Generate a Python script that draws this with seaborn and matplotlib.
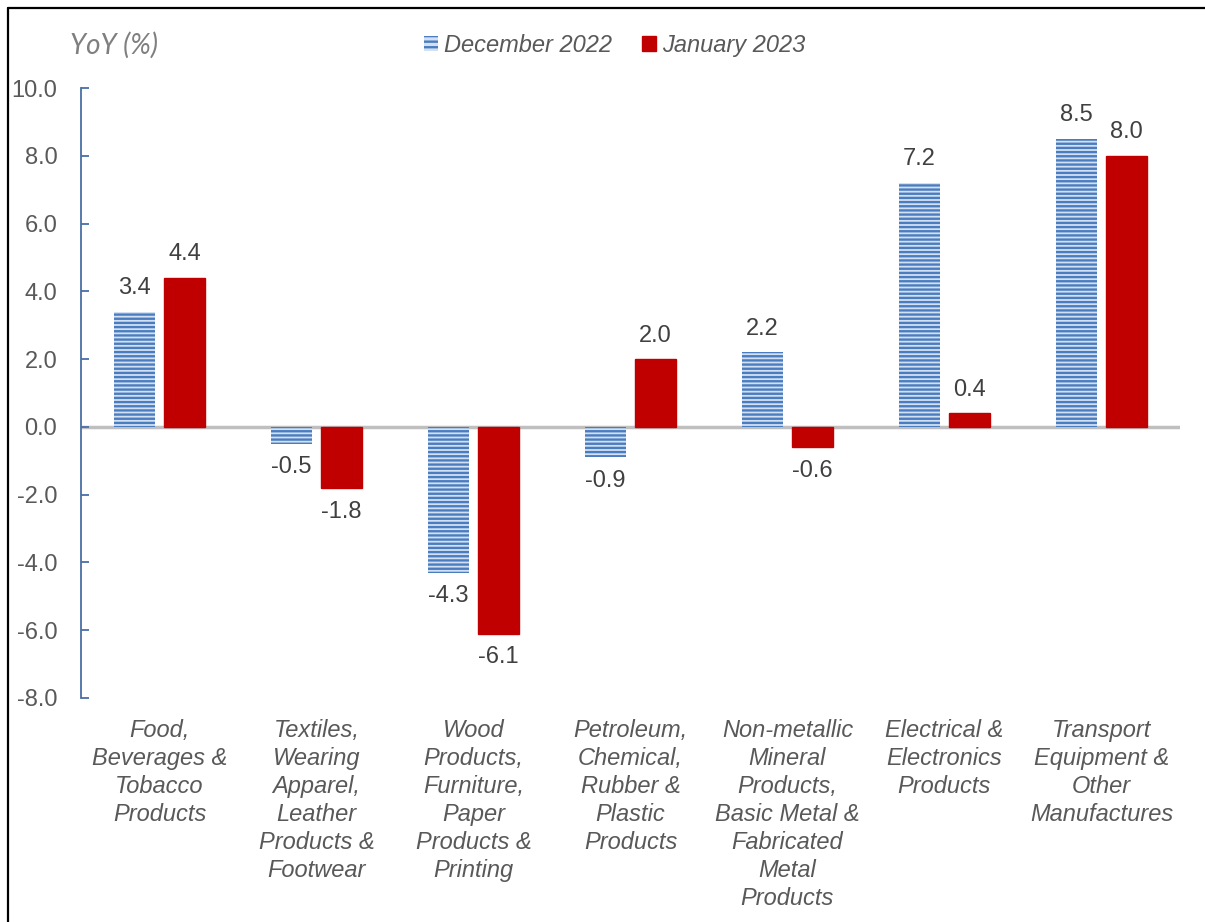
import numpy as np
import matplotlib.pyplot as plt
import pandas as pd
import seaborn as sns
from matplotlib.lines import Line2D
from matplotlib.patches import Patch

# Data
categories = [
    "Food,\nBeverages &\nTobacco\nProducts",
    "Textiles,\nWearing\nApparel,\nLeather\nProducts &\nFootwear",
    "Wood\nProducts,\nFurniture,\nPaper\nProducts &\nPrinting",
    "Petroleum,\nChemical,\nRubber &\nPlastic\nProducts",
    "Non-metallic\nMineral\nProducts,\nBasic Metal &\nFabricated\nMetal\nProducts",
    "Electrical &\nElectronics\nProducts",
    "Transport\nEquipment &\nOther\nManufactures",
]
dec_2022 = [3.4, -0.5, -4.3, -0.9, 2.2, 7.2, 8.5]
jan_2023 = [4.4, -1.8, -6.1, 2.0, -0.6, 0.4, 8.0]
series = ["December 2022", "January 2023"]
yticks = np.arange(-8, 10.1, 2)

df = pd.DataFrame({
    "Category": categories * 2,
    "Series": [series[0]] * len(categories) + [series[1]] * len(categories),
    "Value": dec_2022 + jan_2023,
})

sns.set_style("white")
plt.rcParams["font.family"] = ["Liberation Sans", "DejaVu Sans"]
plt.rcParams["hatch.linewidth"] = 1.7
plt.rcParams["hatch.color"] = "#4a7dbf"

stripe_col = "#4a7dbf"

fig = plt.figure(figsize=(12.05, 9.22), dpi=100)
ax = fig.add_axes([0.0672, 0.243, 0.912, 0.6614])

sns.barplot(data=df, x="Category", y="Value", hue="Series", order=categories,
            hue_order=series, palette=["#d3e0f2", "#c00000"], width=0.637, gap=0.186,
            ax=ax, legend=False, saturation=1)

# Striped style for December bars
for p in ax.containers[0]:
    p.set_hatch("----")
    p.set_edgecolor(stripe_col)
    p.set_linewidth(0)
    if hasattr(p, "set_hatchcolor"):
        p.set_hatchcolor(stripe_col)
for p in ax.containers[1]:
    p.set_edgecolor("#c00000")

# Value labels
for cont, vals in zip(ax.containers, [dec_2022, jan_2023]):
    for p, v in zip(cont, vals):
        x = p.get_x() + p.get_width() / 2
        off = 17 if v >= 0 else -17
        ax.annotate(f"{v:.1f}", (x, v), xytext=(0, off), textcoords="offset points",
                    ha="center", va="center", fontsize=17, color="#404040")

ax.axhline(0, color="#bfbfbf", lw=2.5, zorder=0.5)
ax.set_xlim(-0.5, 6.5)
ax.set_ylim(-8, 10)
ax.set_yticks(yticks)
ax.set_yticklabels([f"{t:.1f}" for t in yticks], fontsize=17, color="#595959")
ax.tick_params(axis="y", direction="in", length=6, width=1.3, color="#4a6fa5", pad=17, left=True)
ax.tick_params(axis="x", length=0, pad=15)
for lab in ax.get_xticklabels():
    lab.set_fontsize(17)
    lab.set_style("italic")
    lab.set_color("#595959")
    lab.set_linespacing(1.28)
    lab.set_va("top")
for s in ["top", "right", "bottom"]:
    ax.spines[s].set_visible(False)
ax.spines["left"].set_color("#4a6fa5")
ax.spines["left"].set_linewidth(1.3)
ax.set_xlabel("")
ax.set_ylabel("")

fig.text(0.058, 0.951, "YoY (%)", fontsize=20, style="italic", color="#7f7f7f",
         family=["Lato", "DejaVu Sans"], va="center")

handles = [Patch(facecolor="#d3e0f2", edgecolor=stripe_col, linewidth=0, hatch="---"),
           Patch(facecolor="#c00000", edgecolor="#c00000")]
leg = fig.legend(handles, series, loc="center", bbox_to_anchor=(0.51, 0.951), ncol=2,
                 frameon=False, fontsize=17, handlelength=0.6, handleheight=0.6,
                 handletextpad=0.25, columnspacing=1.3)
for t in leg.get_texts():
    t.set_style("italic")
    t.set_color("#595959")

# Outer border (top and left)
fig.add_artist(Line2D([0.0066, 1.0], [0.9913, 0.9913], color="black", lw=1.6))
fig.add_artist(Line2D([0.0066, 0.0066], [0.0, 0.9913], color="black", lw=1.6))

fig.savefig("out.png", dpi=100)
